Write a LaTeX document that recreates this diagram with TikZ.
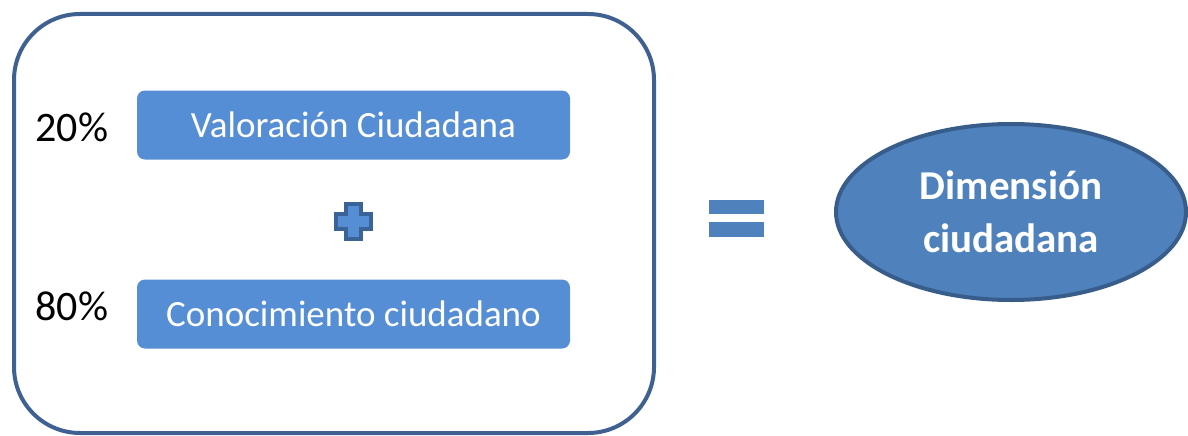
\documentclass[tikz,border=0pt]{standalone}
\usepackage{fontspec}
\setmainfont{Carlito}
\usetikzlibrary{shapes.geometric}
\definecolor{frame}{HTML}{3F6192}
\definecolor{boxblue}{HTML}{558ED5}
\definecolor{ellfill}{HTML}{4F81BD}
\definecolor{ellline}{HTML}{385D8A}
\definecolor{plusline}{HTML}{3A6397}
\tikzset{
  bluebox/.style={fill=boxblue, rounded corners=8pt, minimum width=433pt, minimum height=69pt, text=white, font=\fontsize{37}{44}\selectfont, inner sep=0pt},
  pct/.style={font=\fontsize{42}{50}\selectfont, inner sep=0pt, text=black},
  eqbar/.style={fill=ellfill, draw=none},
}
\begin{document}
\begin{tikzpicture}[x=1pt,y=-1pt]
\useasboundingbox (0,0) rectangle (1188,436);
\draw[frame, line width=4pt, rounded corners=66pt] (14,14) rectangle (654,433);
\node[bluebox] (v) at (353.5,125) {Valoración Ciudadana};
\node[bluebox] (c) at (353.5,314) {Conocimiento ciudadano};
\node[pct] (p1) at (72,127) {20\%};
\node[pct] (p2) at (72,306) {80\%};
% plus sign
\filldraw[fill=boxblue, draw=plusline, line width=4pt, line join=miter]
  (345.5,204) -- (361,204) -- (361,214) -- (371,214) -- (371,229) -- (361,229) -- (361,239) -- (345.5,239) -- (345.5,229) -- (336,229) -- (336,214) -- (345.5,214) -- cycle;
% equals sign
\fill[eqbar] (709,200) rectangle (764,214);
\fill[eqbar] (709,222) rectangle (764,237);
\node[ellipse, fill=ellfill, draw=ellline, line width=4pt, minimum width=350pt, minimum height=176pt, inner sep=0pt, text=white, align=center, font=\bfseries\fontsize{41}{53}\selectfont] (d) at (1011,212) {Dimensión\\ciudadana};
\end{tikzpicture}
\end{document}
